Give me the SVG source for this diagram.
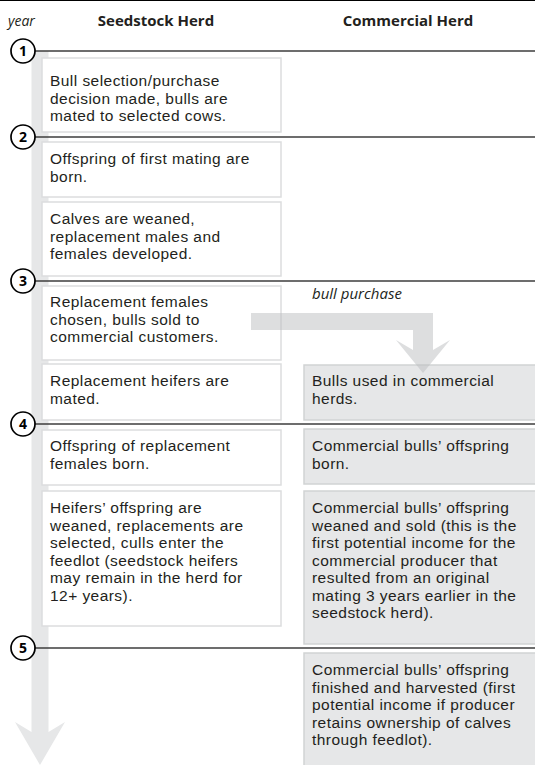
<svg xmlns="http://www.w3.org/2000/svg" width="535" height="765" viewBox="0 0 535 765">
<style>
.t{font-family:"Liberation Sans",Arial,sans-serif;font-size:15.5px;letter-spacing:0.45px;fill:#231f20}
.h{font-family:"Open Sans","Noto Sans",sans-serif;font-size:15px;font-weight:bold;fill:#231f20}
.i{font-family:"Open Sans","Noto Sans",sans-serif;font-size:15px;font-style:italic;fill:#231f20}
.n{font-family:"Open Sans","Noto Sans",sans-serif;font-size:14px;font-weight:bold;fill:#000}
.yl{stroke:#3c3c3c;stroke-width:1.5;fill:none}
.c{fill:#fff;stroke:#000;stroke-width:1.7}
.lb{fill:#fff;stroke:#dcddde;stroke-width:1.5}
.rb{fill:#e6e7e8;stroke:#d1d3d4;stroke-width:1.5}
</style>
<rect width="535" height="765" fill="#fff"/>
<line x1="0" y1="0.5" x2="535" y2="0.5" stroke="#000" stroke-width="1"/>
<g id="header">
<text class="i" x="8" y="26" style="font-size:14px">year</text>
<text class="h" x="156" y="26" text-anchor="middle">Seedstock Herd</text>
<text class="h" x="408" y="26" text-anchor="middle">Commercial Herd</text>
</g>
<g id="timeline">
<polygon fill="#e6e7e8" points="31.5,51 48.5,51 48.5,732 65,722 40,765 15,722 31.5,732"/>
</g>
<g id="year-lines">
<line class="yl" x1="34" y1="51" x2="535" y2="51"/>
<line class="yl" x1="34" y1="137" x2="535" y2="137"/>
<line class="yl" x1="34" y1="281" x2="535" y2="281"/>
<line class="yl" x1="34" y1="424" x2="535" y2="424"/>
<line class="yl" x1="34" y1="648" x2="535" y2="648"/>
</g>
<g id="year1"><circle class="c" cx="23" cy="51" r="12"/><text class="n" x="23" y="56" text-anchor="middle">1</text></g>
<g id="year2"><circle class="c" cx="23" cy="137" r="12"/><text class="n" x="23" y="142" text-anchor="middle">2</text></g>
<g id="year3"><circle class="c" cx="23" cy="281" r="12"/><text class="n" x="23" y="286" text-anchor="middle">3</text></g>
<g id="year4"><circle class="c" cx="23" cy="424" r="12"/><text class="n" x="23" y="429" text-anchor="middle">4</text></g>
<g id="year5"><circle class="c" cx="23" cy="648" r="12"/><text class="n" x="23" y="653" text-anchor="middle">5</text></g>

<g id="s1"><rect class="lb" x="42" y="58" width="239" height="74"/>
<text class="t"><tspan x="50" y="86">Bull selection/purchase</tspan><tspan x="50" y="103.5">decision made, bulls are</tspan><tspan x="50" y="121">mated to selected cows.</tspan></text></g>
<g id="s2"><rect class="lb" x="42" y="142" width="239" height="55"/>
<text class="t"><tspan x="50" y="164">Offspring of first mating are</tspan><tspan x="50" y="181.5">born.</tspan></text></g>
<g id="s3"><rect class="lb" x="42" y="202" width="239" height="74"/>
<text class="t"><tspan x="50" y="224">Calves are weaned,</tspan><tspan x="50" y="241.5">replacement males and</tspan><tspan x="50" y="259">females developed.</tspan></text></g>
<g id="s4"><rect class="lb" x="42" y="286" width="239" height="74"/>
<text class="t"><tspan x="50" y="307">Replacement females</tspan><tspan x="50" y="324.5">chosen, bulls sold to</tspan><tspan x="50" y="342">commercial customers.</tspan></text></g>
<g id="s5"><rect class="lb" x="42" y="364" width="239" height="56"/>
<text class="t"><tspan x="50" y="386">Replacement heifers are</tspan><tspan x="50" y="403.5">mated.</tspan></text></g>
<g id="s6"><rect class="lb" x="42" y="430" width="239" height="55"/>
<text class="t"><tspan x="50" y="451">Offspring of replacement</tspan><tspan x="50" y="468.5">females born.</tspan></text></g>
<g id="s7"><rect class="lb" x="42" y="491" width="239" height="135"/>
<text class="t"><tspan x="50" y="513">Heifers’ offspring are</tspan><tspan x="50" y="530.5">weaned, replacements are</tspan><tspan x="50" y="548">selected, culls enter the</tspan><tspan x="50" y="565.5">feedlot (seedstock heifers</tspan><tspan x="50" y="583">may remain in the herd for</tspan><tspan x="50" y="600.5">12+ years).</tspan></text></g>

<g id="c1"><rect class="rb" x="304" y="365" width="240" height="55"/>
<text class="t"><tspan x="312" y="386">Bulls used in commercial</tspan><tspan x="312" y="403.5">herds.</tspan></text></g>
<g id="c2"><rect class="rb" x="304" y="429" width="240" height="55"/>
<text class="t"><tspan x="312" y="451">Commercial bulls’ offspring</tspan><tspan x="312" y="468.5">born.</tspan></text></g>
<g id="c3"><rect class="rb" x="304" y="491" width="240" height="153"/>
<text class="t"><tspan x="312" y="513">Commercial bulls’ offspring</tspan><tspan x="312" y="530.5">weaned and sold (this is the</tspan><tspan x="312" y="548">first potential income for the</tspan><tspan x="312" y="565.5">commercial producer that</tspan><tspan x="312" y="583">resulted from an original</tspan><tspan x="312" y="600.5">mating 3 years earlier in the</tspan><tspan x="312" y="618">seedstock herd).</tspan></text></g>
<g id="c4"><rect class="rb" x="304" y="653" width="240" height="120"/>
<text class="t"><tspan x="312" y="675">Commercial bulls’ offspring</tspan><tspan x="312" y="692.5">finished and harvested (first</tspan><tspan x="312" y="710">potential income if producer</tspan><tspan x="312" y="727.5">retains ownership of calves</tspan><tspan x="312" y="745">through feedlot).</tspan></text></g>

<g id="connectors">
<polygon fill="#bcbec0" fill-opacity="0.5" points="251,313 433,313 433,350 450,340 423,373 396,340 413,350 413,330 251,330"/>
<text class="i" x="312" y="299">bull purchase</text>
</g>
</svg>
